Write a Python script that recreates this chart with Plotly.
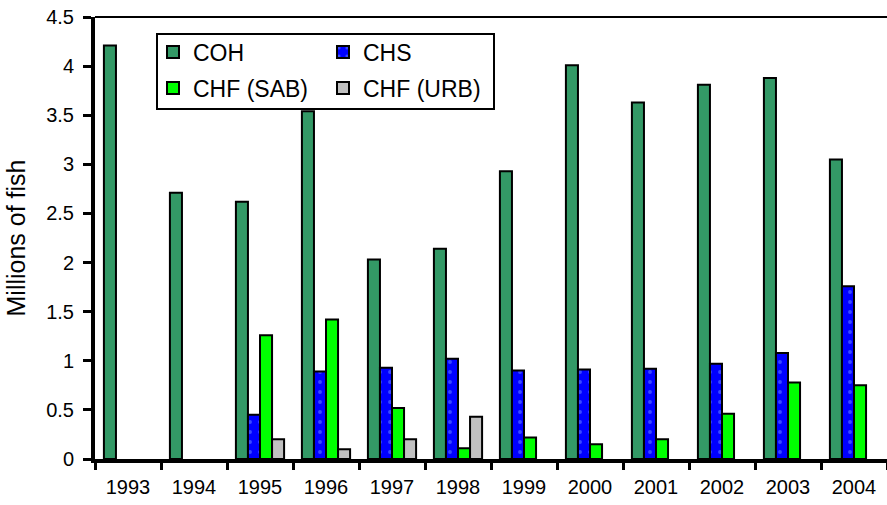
import plotly.graph_objects as go

# Annual hatchery releases by stock (millions of fish)
years = ["1993", "1994", "1995", "1996", "1997", "1998",
         "1999", "2000", "2001", "2002", "2003", "2004"]
coh = [4.21, 2.71, 2.62, 3.54, 2.03, 2.14, 2.93, 4.01, 3.63, 3.81, 3.88, 3.05]
chs = [None, None, 0.45, 0.89, 0.93, 1.02, 0.90, 0.91, 0.92, 0.97, 1.08, 1.76]
chf_sab = [None, None, 1.26, 1.42, 0.52, 0.11, 0.22, 0.15, 0.20, 0.46, 0.78, 0.75]
chf_urb = [None, None, 0.20, 0.10, 0.20, 0.43, None, None, None, None, None, None]

y_ticks = [0, 0.5, 1, 1.5, 2, 2.5, 3, 3.5, 4, 4.5]

FONT = "Liberation Sans, Arial, sans-serif"
W, H = 887, 505
ML, MR, MT, MB = 95, 0, 17, 46
PW, PH = W - ML - MR, H - MT - MB


def px_x(v):
    return (v - ML) / PW


def px_y(v):
    return (H - MB - v) / PH


outline = dict(color="black", width=2)

fig = go.Figure()
fig.add_trace(go.Bar(name="COH", x=years, y=coh, legend="legend",
                     marker=dict(color="#339966", line=outline)))
fig.add_trace(go.Bar(name="CHS", x=years, y=chs, legend="legend",
                     marker=dict(color="#0000FF", line=outline,
                                 pattern=dict(shape=".", fillmode="overlay",
                                              fgcolor="#6f8fff", size=10,
                                              solidity=0.12))))
fig.add_trace(go.Bar(name="CHF (SAB)", x=years, y=chf_sab, legend="legend2",
                     marker=dict(color="#00FF00", line=outline)))
fig.add_trace(go.Bar(name="CHF (URB)", x=years, y=chf_urb, legend="legend2",
                     marker=dict(color="#C0C0C0", line=outline)))

legend_common = dict(orientation="h", xanchor="left", yanchor="middle",
                     bgcolor="rgba(0,0,0,0)", borderwidth=0,
                     entrywidth=125, entrywidthmode="pixels",
                     font=dict(family=FONT, size=23, color="black"),
                     itemclick=False, itemdoubleclick=False)

fig.update_layout(
    width=W, height=H,
    margin=dict(l=ML, r=MR, t=MT, b=MB, autoexpand=False),
    paper_bgcolor="white", plot_bgcolor="white",
    font=dict(family=FONT, color="black"),
    barmode="group", bargap=0.27, bargroupgap=0,
    showlegend=True,
    legend=dict(x=px_x(153), y=px_y(52), **legend_common),
    legend2=dict(x=px_x(153), y=px_y(88), **legend_common),
    xaxis=dict(type="category", range=[-0.5, 11.5], tickson="boundaries",
               ticks="outside", ticklen=7, tickwidth=3, tickcolor="black",
               showline=True, linewidth=4, linecolor="black",
               showgrid=False, tickfont=dict(size=20),
               ticklabelstandoff=7),
    yaxis=dict(range=[0, 4.5], tickvals=y_ticks,
               ticktext=[f"{v:g}" for v in y_ticks],
               ticks="outside", ticklen=8, tickwidth=3, tickcolor="black",
               showline=True, linewidth=4, linecolor="black",
               showgrid=False, zeroline=False, tickfont=dict(size=20),
               ticklabelstandoff=5,
               title=dict(text="Millions of fish", font=dict(size=25),
                          standoff=14)),
    shapes=[
        # top frame line of the plot area
        dict(type="line", xref="paper", yref="paper", x0=0, x1=1, y0=1, y1=1,
             line=dict(color="black", width=2)),
        # legend frame
        dict(type="rect", xref="paper", yref="paper",
             x0=px_x(157), x1=px_x(494), y0=px_y(109), y1=px_y(34),
             line=dict(color="black", width=2), fillcolor="white",
             layer="below"),
    ],
)

fig.write_html("out.html")
